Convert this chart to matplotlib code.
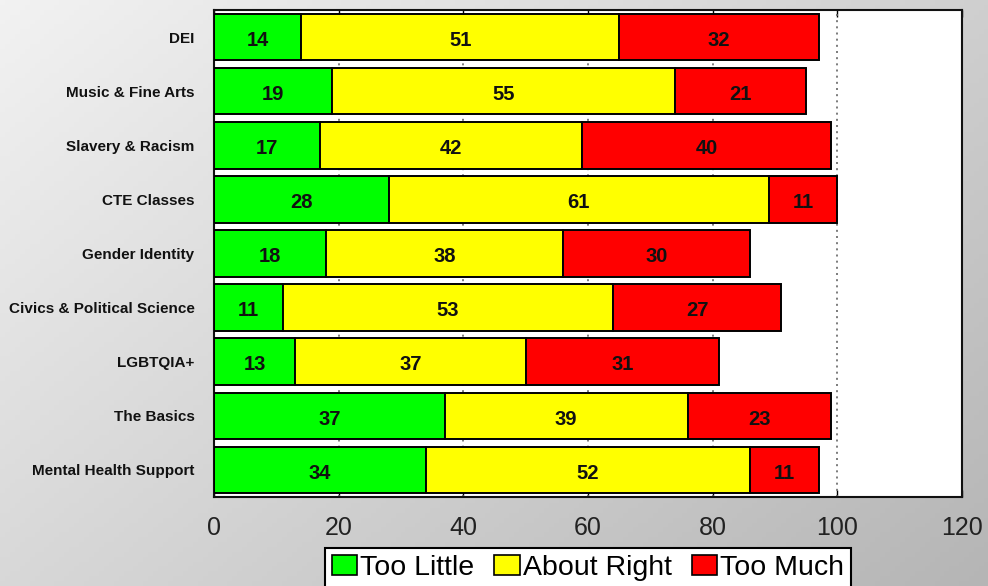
import numpy as np
import matplotlib
matplotlib.use("Agg")
import matplotlib.pyplot as plt
from matplotlib.patches import Patch

categories = ["DEI", "Music & Fine Arts", "Slavery & Racism", "CTE Classes",
              "Gender Identity", "Civics & Political Science", "LGBTQIA+",
              "The Basics", "Mental Health Support"]
too_little = [14, 19, 17, 28, 18, 11, 13, 37, 34]
about_right = [51, 55, 42, 61, 38, 53, 37, 39, 52]
too_much = [32, 21, 40, 11, 30, 27, 31, 23, 11]
series_names = ["Too Little", "About Right", "Too Much"]
series_colors = ["#00ff00", "#ffff00", "#ff0000"]
xticks = [0, 20, 40, 60, 80, 100, 120]

W, H = 988, 586
fig = plt.figure(figsize=(W / 100, H / 100), dpi=100)

# gradient background
bg = fig.add_axes([0, 0, 1, 1], zorder=-10)
u = np.linspace(0, 1, 200)[None, :]
v = np.linspace(0, 1, 120)[:, None]
g = 242 - 58 * (0.6 * u + 0.45 * v)
img = np.dstack([g, g, g]) / 255.0
bg.imshow(img, aspect="auto", extent=[0, 1, 0, 1], origin="upper")
bg.axis("off")

ax = fig.add_axes([214 / W, 1 - 497 / H, (962 - 214) / W, (497 - 10) / H])
ax.set_facecolor("white")

y = np.arange(len(categories))
series = [too_little, about_right, too_much]
left = np.zeros(len(categories))
for vals, name, col in zip(series, series_names, series_colors):
    vals = np.array(vals, dtype=float)
    ax.barh(y, vals, left=left, height=0.86, color=col,
            edgecolor="black", linewidth=1.4, zorder=3)
    for yi, l, val in zip(y, left, vals):
        ax.text(l + val / 2, yi + 0.06, f"{int(val)}", ha="center", va="center",
                fontsize=14.5, fontweight="bold", color="#111111",
                family=["Liberation Sans", "DejaVu Sans"], zorder=4)
    left = left + vals

for t in xticks[1:-1]:
    ax.axvline(t, color="#666666", linestyle=(0, (1.2, 2.5)), linewidth=1.2, zorder=2)

ax.set_xlim(0, 120)
ax.set_ylim(len(categories) - 0.5, -0.5)
ax.set_xticks(xticks)
ax.set_xticklabels([str(t) for t in xticks],
                   family=["Liberation Sans", "DejaVu Sans"],
                   fontsize=18, color="#222222")
ax.tick_params(axis="x", direction="in", length=5, top=True, bottom=True,
               pad=14, width=1)
ax.set_yticks(y)
ax.set_yticklabels(categories, family=["Liberation Sans", "DejaVu Sans"],
                   fontsize=11, fontweight="bold", color="#111111")
ax.tick_params(axis="y", length=0, pad=14)
for s in ax.spines.values():
    s.set_linewidth(1.5)
    s.set_color("#111111")

handles = [Patch(facecolor=c, edgecolor="black", linewidth=1.2) for c in series_colors]
leg = fig.legend(handles, series_names, loc="upper center",
                 bbox_to_anchor=(588 / W, 1 - 548 / H), ncol=3,
                 prop={"family": ["Liberation Sans", "DejaVu Sans"], "size": 20.5},
                 frameon=True, fancybox=False, edgecolor="black",
                 handlelength=0.9, handleheight=0.7, handletextpad=0.1,
                 columnspacing=0.7, borderpad=0.25, borderaxespad=0)
leg.get_frame().set_linewidth(1.5)
leg.get_frame().set_facecolor("white")
leg.get_frame().set_alpha(1)

fig.savefig("out.png", dpi=100)
